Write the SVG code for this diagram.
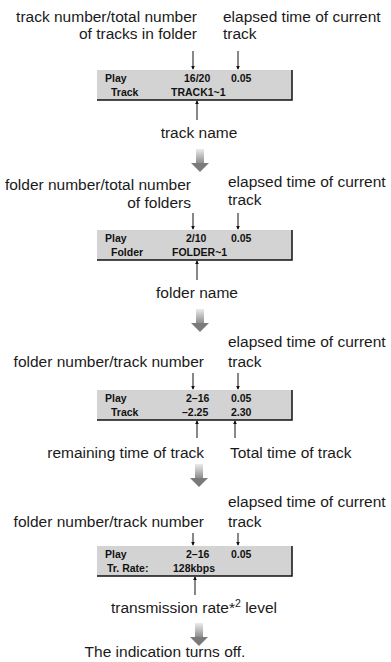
<svg xmlns="http://www.w3.org/2000/svg" width="391" height="662" viewBox="0 0 391 662">
<style>
.lbl{font-family:"Liberation Sans",Arial,sans-serif;font-size:15.5px;fill:#1a1a1a}
.lcd{font-family:"Liberation Sans",Arial,sans-serif;font-size:10.5px;font-weight:bold;fill:#111}
.box{fill:#d3d3d3}
.edge{stroke:#111;stroke-width:1.5;fill:none}
.lead{stroke:#111;stroke-width:1;fill:none}
</style>
<defs>
<marker id="tip" viewBox="0 0 6 6" refX="5" refY="3" markerWidth="4" markerHeight="4" orient="auto" markerUnits="userSpaceOnUse">
<path d="M0,0 L6,3 L0,6 Z" fill="#111"/>
</marker>
<linearGradient id="stemg" x1="0" y1="0" x2="0" y2="1">
<stop offset="0" stop-color="#ececec"/>
<stop offset="1" stop-color="#8a8a8a"/>
</linearGradient>
<g id="darrow">
<rect x="-4" y="0" width="8" height="14.5" fill="url(#stemg)"/>
<path d="M-9,14 L9,14 L0,23 Z" fill="#7a7a7a"/>
</g>
</defs>

<!-- Panel 1 -->
<g id="label-track-number">
<text class="lbl" x="197" y="22" text-anchor="end">track number/total number</text>
<text class="lbl" x="197" y="39" text-anchor="end">of tracks in folder</text>
</g>
<g id="label-elapsed-1">
<text class="lbl" x="223" y="22">elapsed time of current</text>
<text class="lbl" x="223" y="39">track</text>
</g>
<g id="lcd-1">
<rect class="box" x="97" y="70" width="195" height="30"/>
<path class="edge" d="M97,100 L292,100 L292,70"/>
<text class="lcd" x="105" y="82">Play</text>
<text class="lcd" x="111" y="96">Track</text>
<text class="lcd" x="184" y="82">16/20</text>
<text class="lcd" x="231" y="82">0.05</text>
<text class="lcd" x="171" y="96">TRACK1~1</text>
</g>
<g id="label-track-name">
<text class="lbl" x="199" y="138" text-anchor="middle">track name</text>
</g>
<use href="#darrow" x="200" y="149"/>

<!-- Panel 2 -->
<g id="label-folder-number">
<text class="lbl" x="191" y="190" text-anchor="end">folder number/total number</text>
<text class="lbl" x="191" y="208" text-anchor="end">of folders</text>
</g>
<g id="label-elapsed-2">
<text class="lbl" x="228" y="187">elapsed time of current</text>
<text class="lbl" x="228" y="205">track</text>
</g>
<g id="lcd-2">
<rect class="box" x="97" y="230" width="195" height="30"/>
<path class="edge" d="M97,260 L292,260 L292,230"/>
<text class="lcd" x="105" y="242">Play</text>
<text class="lcd" x="111" y="256">Folder</text>
<text class="lcd" x="186" y="242">2/10</text>
<text class="lcd" x="231" y="242">0.05</text>
<text class="lcd" x="172" y="256">FOLDER~1</text>
</g>
<g id="label-folder-name">
<text class="lbl" x="197" y="298" text-anchor="middle">folder name</text>
</g>
<use href="#darrow" x="200" y="309"/>

<!-- Panel 3 -->
<g id="label-elapsed-3">
<text class="lbl" x="228" y="347">elapsed time of current</text>
<text class="lbl" x="228" y="367">track</text>
</g>
<g id="label-folder-track-3">
<text class="lbl" x="204" y="367" text-anchor="end">folder number/track number</text>
</g>
<g id="lcd-3">
<rect class="box" x="97" y="390" width="195" height="30"/>
<path class="edge" d="M97,420 L292,420 L292,390"/>
<text class="lcd" x="105" y="402">Play</text>
<text class="lcd" x="111" y="416">Track</text>
<text class="lcd" x="186" y="402">2–16</text>
<text class="lcd" x="231" y="402">0.05</text>
<text class="lcd" x="182" y="416">–2.25</text>
<text class="lcd" x="231" y="416">2.30</text>
</g>
<g id="label-remaining">
<text class="lbl" x="204" y="458" text-anchor="end">remaining time of track</text>
</g>
<g id="label-total">
<text class="lbl" x="230" y="458">Total time of track</text>
</g>
<use href="#darrow" x="199" y="464"/>

<!-- Panel 4 -->
<g id="label-elapsed-4">
<text class="lbl" x="228" y="507">elapsed time of current</text>
<text class="lbl" x="228" y="527">track</text>
</g>
<g id="label-folder-track-4">
<text class="lbl" x="204" y="527" text-anchor="end">folder number/track number</text>
</g>
<g id="lcd-4">
<rect class="box" x="97" y="546" width="195" height="30"/>
<path class="edge" d="M97,576 L292,576 L292,546"/>
<text class="lcd" x="105" y="558">Play</text>
<text class="lcd" x="107" y="572">Tr. Rate:</text>
<text class="lcd" x="186" y="558">2–16</text>
<text class="lcd" x="231" y="558">0.05</text>
<text class="lcd" x="173" y="572">128kbps</text>
</g>
<g id="label-rate">
<text class="lbl" x="194" y="613" text-anchor="middle">transmission rate*<tspan font-size="10.5" dy="-6">2</tspan><tspan dy="6"> level</tspan></text>
</g>
<use href="#darrow" x="199" y="623"/>
<g id="label-off">
<text class="lbl" x="165" y="657" text-anchor="middle">The indication turns off.</text>
</g>

<g id="connectors">
<line class="lead" x1="193" y1="51" x2="193" y2="69" marker-end="url(#tip)"/>
<line class="lead" x1="238" y1="51" x2="238" y2="69" marker-end="url(#tip)"/>
<line class="lead" x1="197" y1="120" x2="197" y2="101" marker-end="url(#tip)"/>
<line class="lead" x1="193" y1="213" x2="193" y2="229" marker-end="url(#tip)"/>
<line class="lead" x1="238" y1="213" x2="238" y2="229" marker-end="url(#tip)"/>
<line class="lead" x1="197" y1="280" x2="197" y2="261" marker-end="url(#tip)"/>
<line class="lead" x1="193" y1="373" x2="193" y2="389" marker-end="url(#tip)"/>
<line class="lead" x1="238" y1="373" x2="238" y2="389" marker-end="url(#tip)"/>
<line class="lead" x1="197" y1="438" x2="197" y2="421" marker-end="url(#tip)"/>
<line class="lead" x1="235" y1="438" x2="235" y2="421" marker-end="url(#tip)"/>
<line class="lead" x1="193" y1="533" x2="193" y2="545" marker-end="url(#tip)"/>
<line class="lead" x1="238" y1="533" x2="238" y2="545" marker-end="url(#tip)"/>
<line class="lead" x1="195" y1="595" x2="195" y2="577" marker-end="url(#tip)"/>
</g>
</svg>
